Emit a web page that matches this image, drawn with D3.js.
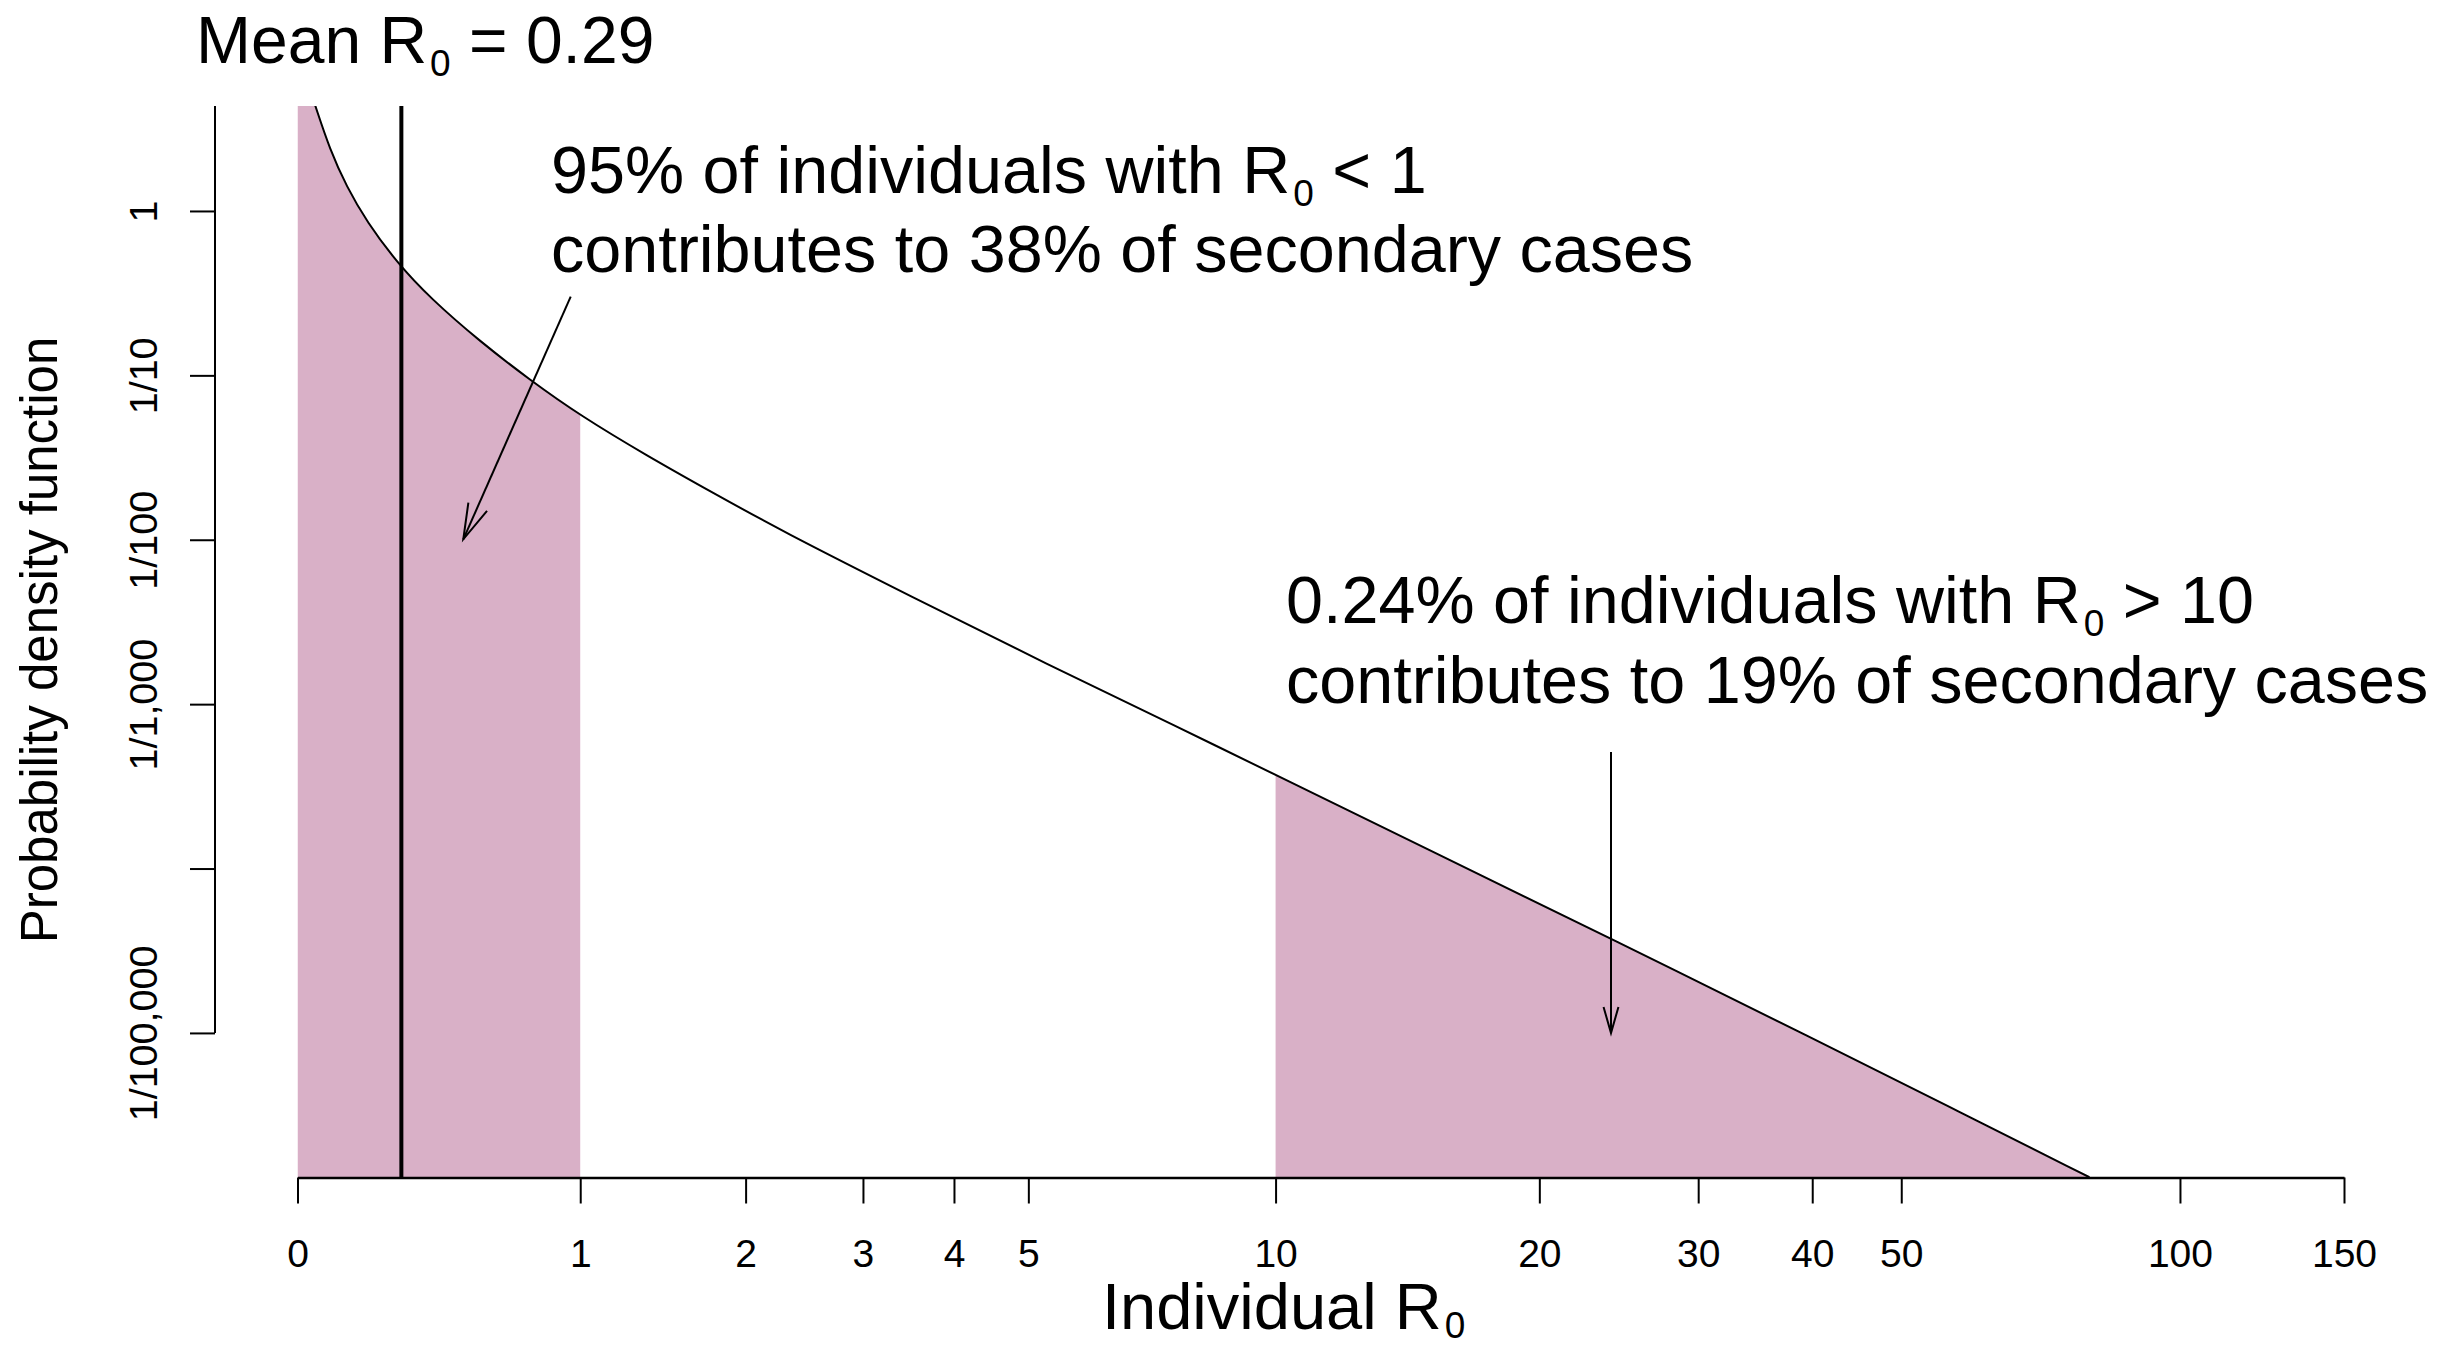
<!DOCTYPE html>
<html>
<head>
<meta charset="utf-8">
<script src="https://cdn.jsdelivr.net/npm/d3@7"></script>
<style>
  html, body { margin: 0; padding: 0; background: #ffffff; }
  svg { display: block; }
  text { font-family: "Liberation Sans", Arial, Helvetica, sans-serif; fill: #000; }
</style>
</head>
<body>
<svg id="chart" width="2455" height="1347"></svg>
<script>
// ---- data ----
const r0Values = [0.044, 0.083, 0.128, 0.185, 0.277, 0.384, 0.564, 0.768, 1.0, 1.353, 1.771,
                  2.263, 3.524, 5.273, 7.70, 10.0, 15.18, 23.95, 40.75, 56.88, 79.9];
const densityValues = [4.41, 2.35, 1.405, 0.861, 0.483, 0.2957, 0.1608, 0.0938, 0.0570, 0.03257, 0.01926,
                       0.01147, 0.004457, 0.001755, 0.000716, 0.000371, 0.0001262, 0.0000378, 0.00000882,
                       0.00000347, 0.000001325];
const xTickValues = [0, 1, 2, 3, 4, 5, 10, 20, 30, 40, 50, 100, 150];
const yTickValues = [1, 0.1, 0.01, 0.001, 0.0001, 0.00001];
const yTickLabels = ["1", "1/10", "1/100", "1/1,000", "", "1/100,000"];
const xDomain = [0, 150];
const yDomain = [1.32e-6, 4.35];
const meanR0 = 0.29;
const lowShade = [0, 1];
const highShade = [10, 150];
const annotationLow = ["95% of individuals with R", "0", " < 1", "contributes to 38% of secondary cases"];
const annotationHigh = ["0.24% of individuals with R", "0", " > 10", "contributes to 19% of secondary cases"];

(function () {
const svg = d3.select("#chart");
const pLeft = 297.5, pRight = 2344, pTop = 106, pBottom = 1177.5;
const pink = "#d9b0c7";

const x = d3.scaleSymlog().constant(1).domain(xDomain).range([pLeft, pRight]);
const y = d3.scaleLog().domain(yDomain).range([pBottom, pTop]);

const pts = r0Values.map((r, i) => ({ r: r, f: densityValues[i] }));

const defs = svg.append("defs");
defs.append("clipPath").attr("id", "plotClip")
  .append("rect").attr("x", pLeft - 2).attr("y", pTop).attr("width", pRight - pLeft + 4).attr("height", pBottom - pTop);
const shadeClip = defs.append("clipPath").attr("id", "shadeClip");
[lowShade, highShade].forEach(s => {
  shadeClip.append("rect")
    .attr("x", x(s[0])).attr("y", pTop - 10)
    .attr("width", x(s[1]) - x(s[0])).attr("height", pBottom - pTop + 10);
});

const plot = svg.append("g").attr("clip-path", "url(#plotClip)");

const line = d3.line().x(d => x(d.r)).y(d => y(d.f)).curve(d3.curveBasis);
const linePath = line(pts);
const first = pts[0], last = pts[pts.length - 1];

// shaded areas: region under the density curve, restricted to the two R0 ranges
const areaPath = linePath +
  `L${x(last.r)},${pBottom}L${x(xDomain[0])},${pBottom}L${x(xDomain[0])},${pTop - 10}L${x(first.r)},${pTop - 10}Z`;
plot.append("g").attr("clip-path", "url(#shadeClip)")
  .append("path").attr("d", areaPath).attr("fill", pink);

// density curve
plot.append("path").attr("d", linePath)
  .attr("fill", "none").attr("stroke", "#000").attr("stroke-width", 2);

// mean line
svg.append("line")
  .attr("x1", x(meanR0)).attr("x2", x(meanR0))
  .attr("y1", pTop).attr("y2", pBottom)
  .attr("stroke", "#000").attr("stroke-width", 4);

// x axis
const xAxis = d3.axisBottom(x).tickValues(xTickValues).tickSize(26).tickSizeOuter(0)
  .tickFormat(d3.format("d"));
const gx = svg.append("g").attr("transform", `translate(0,${pBottom})`).call(xAxis);
gx.select(".domain").attr("stroke", "#000").attr("stroke-width", 2.5);
gx.selectAll(".tick line").attr("stroke", "#000").attr("stroke-width", 2);
gx.selectAll(".tick text")
  .attr("y", 89).attr("dy", null)
  .style("font-size", "39px")
  .style("font-family", "'Liberation Sans', Arial, Helvetica, sans-serif")
  .attr("fill", "#000");

// y axis
const axisX = 215;
const yAxis = d3.axisLeft(y).tickValues(yTickValues).tickSize(25).tickSizeOuter(0)
  .tickFormat((d, i) => yTickLabels[i]);
const gy = svg.append("g").attr("transform", `translate(${axisX},0)`).call(yAxis);
gy.select(".domain").remove();
gy.append("line")
  .attr("x1", 0).attr("x2", 0)
  .attr("y1", pTop).attr("y2", y(yTickValues[yTickValues.length - 1]))
  .attr("stroke", "#000").attr("stroke-width", 2);
gy.selectAll(".tick line").attr("stroke", "#000").attr("stroke-width", 2);
gy.selectAll(".tick text")
  .attr("x", null).attr("dy", null)
  .attr("transform", "translate(-58,0) rotate(-90)")
  .attr("text-anchor", "middle")
  .style("font-size", "39.5px")
  .style("font-family", "'Liberation Sans', Arial, Helvetica, sans-serif")
  .attr("fill", "#000");

// axis titles
const xt = svg.append("text").attr("x", 1102).attr("y", 1329).style("font-size", "65px");
xt.append("tspan").text("Individual R");
xt.append("tspan").attr("dx", 3).attr("dy", 9).style("font-size", "37px").text("0");

svg.append("text")
  .attr("transform", "translate(57,640) rotate(-90)")
  .attr("text-anchor", "middle")
  .style("font-size", "51px")
  .text("Probability density function");

// title
const tt = svg.append("text").attr("x", 196).attr("y", 63).style("font-size", "66px");
tt.append("tspan").text("Mean R");
tt.append("tspan").attr("dx", 3).attr("dy", 13).style("font-size", "37px").text("0");
tt.append("tspan").attr("dy", -13).text(" = " + meanR0);

// annotations
function annot(lines, x0, y1, y2) {
  const t1 = svg.append("text").attr("x", x0).attr("y", y1).style("font-size", "66.5px");
  t1.append("tspan").text(lines[0]);
  t1.append("tspan").attr("dx", 3).attr("dy", 13).style("font-size", "37px").text(lines[1]);
  t1.append("tspan").attr("dy", -13).text(lines[2]);
  svg.append("text").attr("x", x0).attr("y", y2).style("font-size", "66.5px").text(lines[3]);
}
annot(annotationLow, 551, 193, 272);
annot(annotationHigh, 1286, 623, 703);

// arrows
function arrow(x1, y1, x2, y2, headLen, angleDeg) {
  const g = svg.append("g").attr("stroke", "#000").attr("stroke-width", 2).attr("fill", "none");
  g.append("line").attr("x1", x1).attr("y1", y1).attr("x2", x2).attr("y2", y2);
  const ang = Math.atan2(y1 - y2, x1 - x2);
  const a = angleDeg * Math.PI / 180;
  const p1 = [x2 + headLen * Math.cos(ang + a), y2 + headLen * Math.sin(ang + a)];
  const p2 = [x2 + headLen * Math.cos(ang - a), y2 + headLen * Math.sin(ang - a)];
  g.append("path").attr("d", `M${p1[0]},${p1[1]}L${x2},${y2}L${p2[0]},${p2[1]}`);
}
arrow(570.7, 296.7, 463.3, 539.3, 37, 16);
arrow(1611, 752, 1611, 1033, 27, 16);
})();
</script>
</body>
</html>
